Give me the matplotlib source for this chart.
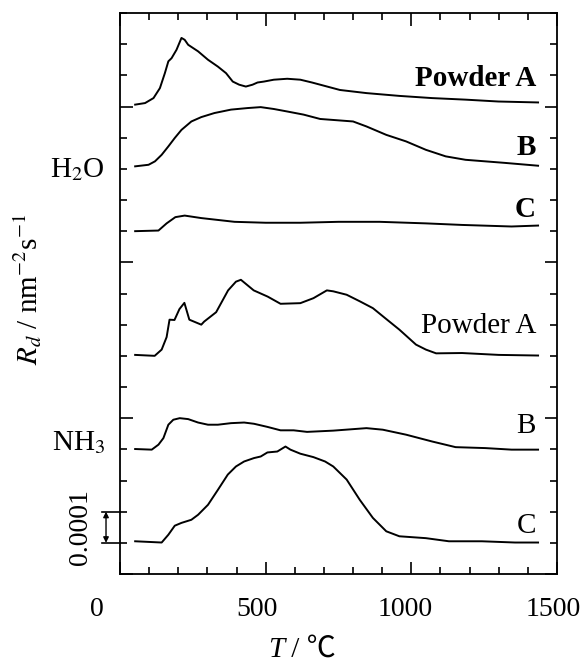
import matplotlib
matplotlib.use("Agg")
import matplotlib.pyplot as plt
from matplotlib.ticker import MultipleLocator
from matplotlib.transforms import offset_copy

plt.rcParams['font.family'] = ['Liberation Serif', 'DejaVu Serif', 'DejaVu Sans']
plt.rcParams['mathtext.fontset'] = 'stix'

# curves: temperature (C) and offset rate in units of 1e-4 nm^-2 s^-1
h2o_a_T = [52, 86, 115, 137, 154, 166, 177, 194, 211, 222, 234, 268, 302, 336, 364, 387,
           409, 432, 455, 472, 494, 528, 574, 619, 659, 687, 755, 846, 959, 1071, 1186, 1299, 1435]
h2o_a_R = [15.06, 15.11, 15.27, 15.59, 16.07, 16.45, 16.55, 16.82, 17.2, 17.14, 16.98, 16.77,
           16.5, 16.28, 16.07, 15.8, 15.7, 15.64, 15.7, 15.77, 15.8, 15.86, 15.89, 15.86, 15.77,
           15.7, 15.53, 15.43, 15.34, 15.27, 15.22, 15.16, 15.13]

h2o_b_T = [52, 98, 120, 143, 166, 188, 211, 245, 279, 324, 381, 438, 483, 528, 574, 630,
           687, 800, 846, 914, 982, 1050, 1118, 1186, 1254, 1322, 1435]
h2o_b_R = [13.08, 13.13, 13.24, 13.45, 13.72, 13.99, 14.25, 14.52, 14.66, 14.79, 14.9, 14.95,
           14.98, 14.92, 14.84, 14.74, 14.6, 14.52, 14.36, 14.09, 13.88, 13.61, 13.4, 13.29,
           13.24, 13.19, 13.1]

h2o_c_T = [52, 132, 160, 190, 222, 279, 393, 500, 619, 750, 891, 1050, 1174, 1344, 1435]
h2o_c_R = [11.0, 11.02, 11.25, 11.45, 11.5, 11.42, 11.3, 11.27, 11.27, 11.3, 11.3, 11.25,
           11.2, 11.15, 11.18]

nh3_a_T = [52, 119, 143, 160, 170, 187, 204, 221, 238, 279, 289, 330, 371, 398, 415,
           459, 507, 551, 619, 664, 710, 732, 778, 823, 868, 914, 959, 1016, 1050, 1085,
           1174, 1300, 1435]
nh3_a_R = [7.03, 7.0, 7.2, 7.6, 8.16, 8.15, 8.5, 8.7, 8.16, 8.0, 8.1, 8.4, 9.1, 9.38, 9.44,
           9.1, 8.9, 8.67, 8.69, 8.85, 9.1, 9.07, 8.96, 8.75, 8.53, 8.18, 7.84, 7.36, 7.2,
           7.08, 7.09, 7.03, 7.01]

nh3_b_T = [52, 109, 132, 149, 166, 183, 205, 234, 268, 302, 336, 381, 426, 460, 506, 551,
           596, 642, 732, 846, 902, 982, 1072, 1152, 1254, 1344, 1435]
nh3_b_R = [4.01, 3.99, 4.15, 4.36, 4.79, 4.95, 5.0, 4.97, 4.86, 4.79, 4.79, 4.84, 4.86, 4.82,
           4.72, 4.61, 4.61, 4.56, 4.6, 4.68, 4.63, 4.47, 4.25, 4.07, 4.04, 3.99, 3.99]

nh3_c_T = [52, 143, 166, 188, 211, 245, 268, 302, 336, 370, 398, 426, 460, 483, 506, 540,
           568, 585, 619, 664, 704, 732, 778, 823, 868, 914, 959, 1050, 1129, 1242, 1356, 1435]
nh3_c_R = [1.05, 1.01, 1.26, 1.55, 1.64, 1.74, 1.9, 2.22, 2.7, 3.19, 3.45, 3.61, 3.72, 3.77,
           3.9, 3.93, 4.09, 3.99, 3.86, 3.75, 3.61, 3.45, 3.03, 2.38, 1.8, 1.37, 1.21, 1.15,
           1.05, 1.05, 1.01, 1.01]

curves = [(h2o_a_T, h2o_a_R), (h2o_b_T, h2o_b_R), (h2o_c_T, h2o_c_R),
          (nh3_a_T, nh3_a_R), (nh3_b_T, nh3_b_R), (nh3_c_T, nh3_c_R)]

# curve labels: text, baseline position, weight
labels = [("Powder A", 15.67, 'bold'), ("B", 13.45, 'bold'), ("C", 11.47, 'bold'),
          ("Powder A", 7.74, 'normal'), ("B", 4.53, 'normal'), ("C", 1.33, 'normal')]

xtick_vals = [0, 500, 1000, 1500]
xtick_shift = [-16.5, -6, -4.5, -3]   # points, labels sit left of their ticks

fig = plt.figure(figsize=(5.83, 6.66), dpi=100)
ax = fig.add_axes([120/583, 92/666, 437/583, 561/666])

for T, R in curves:
    ax.plot(T, R, color='black', lw=1.4)

for txt, yb, w in labels:
    ax.text(1428, yb, txt, ha='right', va='baseline', fontsize=21, fontweight=w)

ax.set_xlim(0, 1500)
ax.set_ylim(0, 18)
ax.xaxis.set_major_locator(MultipleLocator(500))
ax.xaxis.set_minor_locator(MultipleLocator(100))
ax.yaxis.set_major_locator(MultipleLocator(5))
ax.yaxis.set_minor_locator(MultipleLocator(1))
ax.tick_params(which='both', direction='in', top=True, right=True, width=1.2,
               labelbottom=False, labelleft=False)
ax.tick_params(which='major', length=9)
ax.tick_params(which='minor', length=5)
for s in ax.spines.values():
    s.set_linewidth(1.3)

# x tick labels, drawn by hand so they can be nudged like the original
for v, dx in zip(xtick_vals, xtick_shift):
    tr = offset_copy(ax.get_xaxis_transform(), fig=fig, x=dx, y=-16.5, units='points')
    ax.text(v, 0, str(v), transform=tr, ha='center', va='top', fontsize=20, clip_on=False)

# species labels
ax.text(-51, 12.75, "H$_2$O", ha='right', va='baseline', fontsize=21, clip_on=False)
ax.text(-51, 3.99, "NH$_3$", ha='right', va='baseline', fontsize=21, clip_on=False)

# scale bar
for yy in (1, 2):
    ax.plot([-61, 0], [yy, yy], color='black', lw=1.2, clip_on=False)
ax.annotate("", xy=(-48, 2), xytext=(-48, 1),
            arrowprops=dict(arrowstyle='<|-|>', color='black', lw=1.0,
                            mutation_scale=8, shrinkA=0, shrinkB=0),
            annotation_clip=False)
ax.text(-136, 1.5, "0.0001", rotation=90, ha='center', va='center', fontsize=20, clip_on=False)

fig.text(28/583, 1 - 289/666, r"$R_d$ / nm$^{-2}$s$^{-1}$", rotation=90,
         ha='center', va='center', fontsize=21)
fig.text(284/583, 1 - 650/666, "T", style='italic', ha='right', va='center', fontsize=21)
fig.text(284/583, 1 - 650/666, " / ℃", ha='left', va='center', fontsize=21,
         family=['Liberation Serif', 'Noto Sans CJK JP'])

fig.savefig("out.png", dpi=100)
